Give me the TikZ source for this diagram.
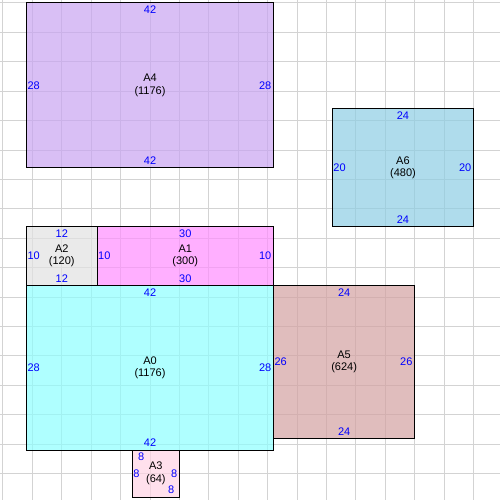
\documentclass[tikz,border=0pt]{standalone}
\usepackage{fontspec}
\setmainfont{Liberation Sans}
\definecolor{cA4}{RGB}{201,164,241}
\definecolor{cA6}{RGB}{142,206,228}
\definecolor{cA1}{RGB}{255,142,255}
\definecolor{cA2}{RGB}{226,226,226}
\definecolor{cA0}{RGB}{142,255,255}
\definecolor{cA5}{RGB}{211,162,162}
\definecolor{cA3}{RGB}{255,211,228}
\definecolor{gridc}{RGB}{211,211,211}
\newif\ifskipright
\newcommand\areabox[9]{%
  \draw[box,fill=#6] (#2,#3) rectangle (#4,#5);
  \pgfmathtruncatemacro\bw{#4-#2}%
  \pgfmathtruncatemacro\bh{#5-#3}%
  \pgfmathsetmacro\my{(#3+#5)/2}%
  \node[nm] (#1) at ({(#2+#4)/2},\my) {#1\\(#7)};
  \node[dim] (#1t) at (#8,{#3+1.2}) {\bw};
  \node[dim] (#1b) at (#9,{#5-1.2}) {\bw};
  \node[dim,anchor=west] (#1l) at ({#2+0.15},\my) {\bh};
  \ifskipright\else
  \node[dim,anchor=east] (#1r) at ({#4-0.35},\my) {\bh};
  \fi
}
\begin{document}
\begin{tikzpicture}[x=5.88235pt,y=-5.88235pt,
  box/.style={draw=black,line width=1pt,fill opacity=0.7},
  nm/.style={align=center,font=\fontsize{11}{12.5}\selectfont,inner sep=0pt,text=black},
  dim/.style={font=\fontsize{11}{12}\selectfont,text=blue,inner sep=0pt},
  gridline/.style={draw=gridc,line width=0.9pt}]
\useasboundingbox (-0.5,-0.5) rectangle (84.5,84.5);
\fill[white] (-0.5,-0.5) rectangle (84.5,84.5);
\foreach \i in {0,5,...,80} {
  \draw[gridline] (\i,-0.5) -- (\i,84.5);
  \draw[gridline] (-0.5,\i) -- (84.5,\i);
}
\areabox{A4}{4}{0}{46}{28}{cA4}{1176}{25}{25}
\areabox{A6}{56}{18}{80}{38}{cA6}{480}{68}{68}
\skiprighttrue
\areabox{A2}{4}{38}{16}{48}{cA2}{120}{10}{10}
\skiprightfalse
\areabox{A1}{16}{38}{46}{48}{cA1}{300}{31}{31}
\areabox{A0}{4}{48}{46}{76}{cA0}{1176}{25}{25}
\areabox{A5}{46}{48}{70}{74}{cA5}{624}{58}{58}
\areabox{A3}{22}{76}{30}{84}{cA3}{64}{23.5}{28.6}
\end{tikzpicture}
\end{document}
